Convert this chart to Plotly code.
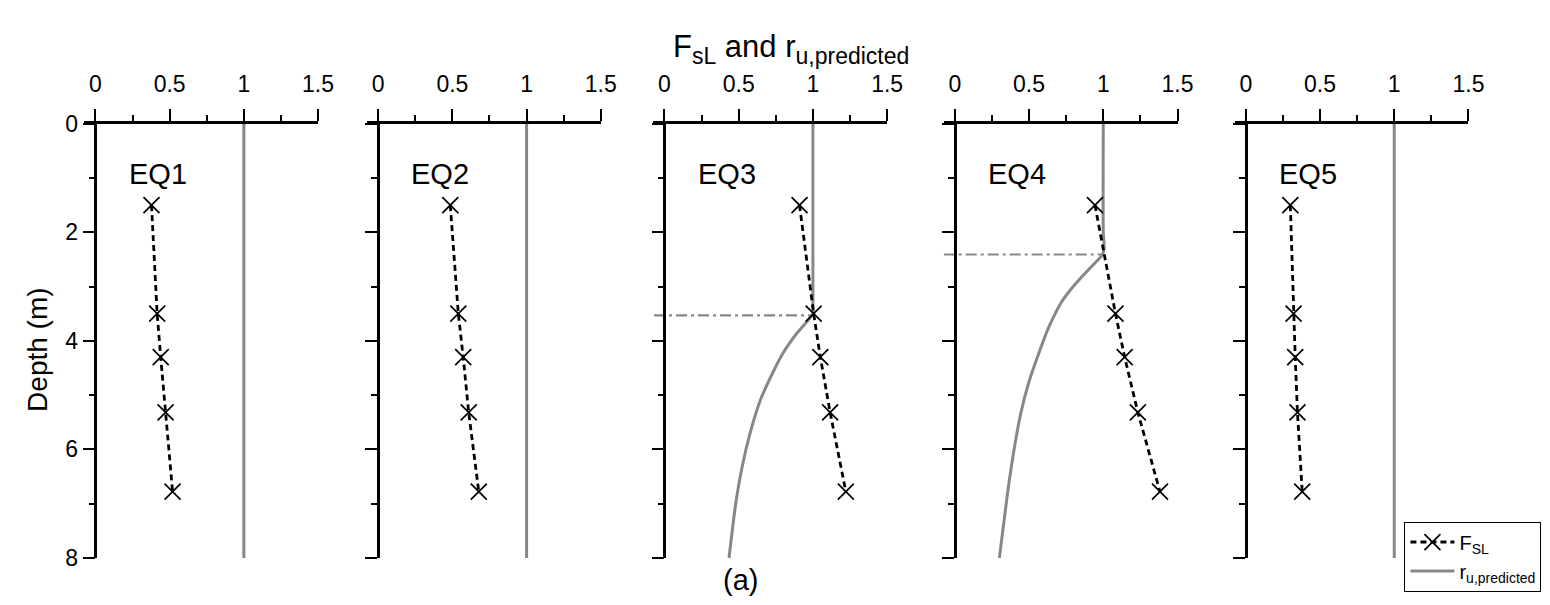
import plotly.graph_objects as go

# depths of the F_sL points (m)
depth_pts = [1.5, 3.5, 4.3, 5.32, 6.78]

fsl_eq1 = [0.378, 0.416, 0.44, 0.473, 0.52]
fsl_eq2 = [0.486, 0.54, 0.573, 0.61, 0.678]
fsl_eq3 = [0.91, 1.005, 1.05, 1.116, 1.222]
fsl_eq4 = [0.944, 1.082, 1.144, 1.233, 1.382]
fsl_eq5 = [0.30, 0.322, 0.333, 0.348, 0.38]

# r_u,predicted profiles
ru_flat_depth = [0, 8]
ru_flat_val = [1.0, 1.0]

ru_eq3_depth = [0, 3.3, 3.5, 3.87, 4.22, 4.63, 5.10, 5.69, 6.34, 7.04, 8.0]
ru_eq3_val = [1.0, 1.0, 1.0, 0.889, 0.80, 0.722, 0.645, 0.578, 0.522, 0.478, 0.435]

ru_eq4_depth = [0, 2.0, 2.3, 2.43, 2.69, 2.96, 3.28, 3.75, 4.22, 4.75, 5.34, 5.99, 6.81, 8.0]
ru_eq4_val = [1.0, 1.0, 1.006, 0.99, 0.90, 0.81, 0.72, 0.633, 0.567, 0.50, 0.444, 0.40, 0.355, 0.30]

# liquefaction depth markers (dash-dot)
liq_eq3 = dict(x=[-0.07, 0.995], depth=3.53)
liq_eq4 = dict(x=[-0.075, 0.99], depth=2.41)

panel_names = ["EQ1", "EQ2", "EQ3", "EQ4", "EQ5"]
fsl_all = [fsl_eq1, fsl_eq2, fsl_eq3, fsl_eq4, fsl_eq5]
ru_all = [
    (ru_flat_depth, ru_flat_val),
    (ru_flat_depth, ru_flat_val),
    (ru_eq3_depth, ru_eq3_val),
    (ru_eq4_depth, ru_eq4_val),
    (ru_flat_depth, ru_flat_val),
]
liq_all = [None, None, liq_eq3, liq_eq4, None]

W, H = 1550, 605
axis_left_px = [88.3, 374, 663.3, 956.7, 1250.7]
px_per_unit = 150
xmin = -0.075
y_top_px, y_bot_px = 107.3, 561

FONT = "Liberation Sans, Arial, sans-serif"
GRAY = "#878787"

fig = go.Figure()
layout = dict(
    width=W, height=H,
    margin=dict(l=0, r=0, t=0, b=0),
    paper_bgcolor="white", plot_bgcolor="white",
    font=dict(family=FONT, color="black"),
    showlegend=True,
    legend=dict(
        x=1411 / W, y=1 - 523 / H, xanchor="left", yanchor="top",
        bordercolor="black", borderwidth=1, bgcolor="white",
        font=dict(size=20, family=FONT), itemwidth=44,
        tracegroupgap=0,
    ),
)

annotations = []
for i in range(5):
    n = "" if i == 0 else str(i + 1)
    xa, ya = "x" + n, "y" + n
    x0 = axis_left_px[i]
    dom_l = (x0 + xmin * px_per_unit) / W
    dom_r = (x0 + 1.5 * px_per_unit) / W
    layout["xaxis" + n] = dict(
        domain=[dom_l, dom_r], range=[xmin, 1.5], side="top", anchor=ya,
        showline=True, linecolor="black", linewidth=2.5,
        ticks="outside", ticklen=12, tickwidth=2, tickcolor="black",
        tickvals=[0, 0.5, 1, 1.5], ticktext=["0", "0.5", "1", "1.5"],
        minor=dict(tickvals=[0.25, 0.75, 1.25], ticks="outside", ticklen=6,
                   tickwidth=2, tickcolor="black"),
        tickfont=dict(size=23, family=FONT),
        ticklabelstandoff=8,
        showgrid=False, zeroline=False,
    )
    layout["yaxis" + n] = dict(
        domain=[1 - y_bot_px / H, 1 - y_top_px / H], range=[8, 0],
        anchor="free", position=x0 / W,
        showline=True, linecolor="black", linewidth=2.5,
        ticks="outside", ticklen=12, tickwidth=2, tickcolor="black",
        tickvals=[0, 2, 4, 6, 8],
        minor=dict(tickvals=[1, 3, 5, 7], ticks="outside", ticklen=6,
                   tickwidth=2, tickcolor="black"),
        showticklabels=(i == 0),
        tickfont=dict(size=23, family=FONT),
        showgrid=False, zeroline=False,
    )

    ru_d, ru_v = ru_all[i]
    fig.add_trace(go.Scatter(
        x=ru_v, y=ru_d, xaxis=xa, yaxis=ya, mode="lines",
        line=dict(color=GRAY, width=3, shape="spline", smoothing=0.6),
        name="r<sub>u,predicted</sub>", showlegend=(i == 0), legendrank=2,
    ))
    liq = liq_all[i]
    if liq is not None:
        fig.add_trace(go.Scatter(
            x=liq["x"], y=[liq["depth"]] * 2, xaxis=xa, yaxis=ya, mode="lines",
            line=dict(color=GRAY, width=2.2, dash="11px,4px,3px,4px"),
            showlegend=False,
        ))
    fig.add_trace(go.Scatter(
        x=fsl_all[i], y=depth_pts, xaxis=xa, yaxis=ya, mode="lines+markers",
        line=dict(color="black", width=2.8, dash="6px,4px"),
        marker=dict(symbol="x-thin", size=16, line=dict(color="black", width=1.7)),
        name="F<sub>SL</sub>", showlegend=(i == 0), legendrank=1,
    ))
    annotations.append(dict(
        x=0.42, y=0.93, xref=xa, yref=ya, text=panel_names[i], showarrow=False,
        xanchor="center", yanchor="middle",
        font=dict(size=29, family=FONT),
    ))

title_text = ('F<sub><span style="font-size:23px">sL</span></sub> and '
              'r<sub><span style="font-size:23px">u,predicted</span></sub>')

annotations += [
    dict(x=791 / W, y=1 - 29 / H, xref="paper", yref="paper",
         xanchor="center", yanchor="middle",
         text=title_text, showarrow=False,
         font=dict(size=31, family=FONT)),
    dict(x=30 / W, y=1 - 344 / H, xref="paper", yref="paper", text="Depth (m)",
         xanchor="center", yanchor="middle",
         textangle=-90, showarrow=False, font=dict(size=28, family=FONT)),
    dict(x=740 / W, y=1 - 584 / H, xref="paper", yref="paper", text="(a)",
         xanchor="center", yanchor="middle",
         showarrow=False, font=dict(size=29, family=FONT)),
]
layout["annotations"] = annotations
fig.update_layout(**layout)

fig.write_html("out.html")
